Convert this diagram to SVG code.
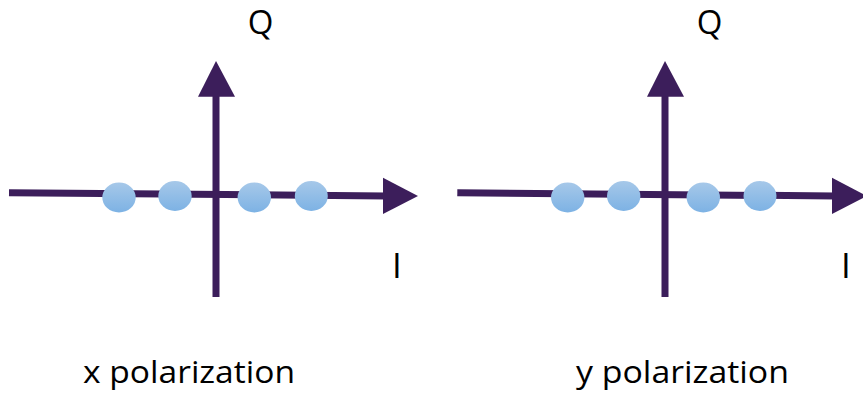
<svg xmlns="http://www.w3.org/2000/svg" width="863" height="395" viewBox="0 0 863 395">
<defs>
<linearGradient id="dot" x1="0" y1="0" x2="0" y2="1">
<stop offset="0" stop-color="#a6c8e9"/>
<stop offset="1" stop-color="#7db2e4"/>
</linearGradient>
<style>
.ax{stroke:#3c1e5b;stroke-width:7;fill:none}
.hd{fill:#3c1e5b}
.dot{fill:url(#dot)}
.lbl{font-family:"Open Sans","Noto Sans",sans-serif;fill:#000}
</style>
</defs>
<g id="panel-x">
<g id="axes-x">
<line class="ax" x1="9" y1="192.7" x2="386" y2="196"/>
<polygon class="hd" points="383,177.7 418,196 383,214"/>
<line class="ax" x1="216" y1="297" x2="216" y2="94"/>
<polygon class="hd" points="198,96.7 216,61 235,96.7"/>
</g>
<g id="points-x">
<ellipse class="dot" cx="119" cy="197.5" rx="16.7" ry="15"/>
<ellipse class="dot" cx="175" cy="196" rx="16.7" ry="15"/>
<ellipse class="dot" cx="254.3" cy="197.5" rx="16.7" ry="15"/>
<ellipse class="dot" cx="311.3" cy="196" rx="16.5" ry="15"/>
</g>
<text class="lbl" x="260.5" y="34" font-size="33" text-anchor="middle">Q</text>
<text class="lbl" x="397" y="278" font-size="35" text-anchor="middle">I</text>
<text class="lbl" x="83" y="383" font-size="31" textLength="212" lengthAdjust="spacingAndGlyphs">x polarization</text>
</g>
<g id="panel-y">
<g id="axes-y">
<line class="ax" x1="457.3" y1="192.7" x2="835" y2="196"/>
<polygon class="hd" points="832,177.7 867,196 832,214"/>
<line class="ax" x1="665" y1="297" x2="665" y2="94"/>
<polygon class="hd" points="647,96.7 665,61 684,96.7"/>
</g>
<g id="points-y">
<ellipse class="dot" cx="567.7" cy="197.5" rx="16.7" ry="15"/>
<ellipse class="dot" cx="623.7" cy="196" rx="16.7" ry="15"/>
<ellipse class="dot" cx="703.3" cy="197.5" rx="16.7" ry="15"/>
<ellipse class="dot" cx="760" cy="196" rx="16.5" ry="15"/>
</g>
<text class="lbl" x="709.5" y="34" font-size="33" text-anchor="middle">Q</text>
<text class="lbl" x="846" y="278" font-size="35" text-anchor="middle">I</text>
<text class="lbl" x="576" y="383" font-size="31" textLength="213" lengthAdjust="spacingAndGlyphs">y polarization</text>
</g>
</svg>
